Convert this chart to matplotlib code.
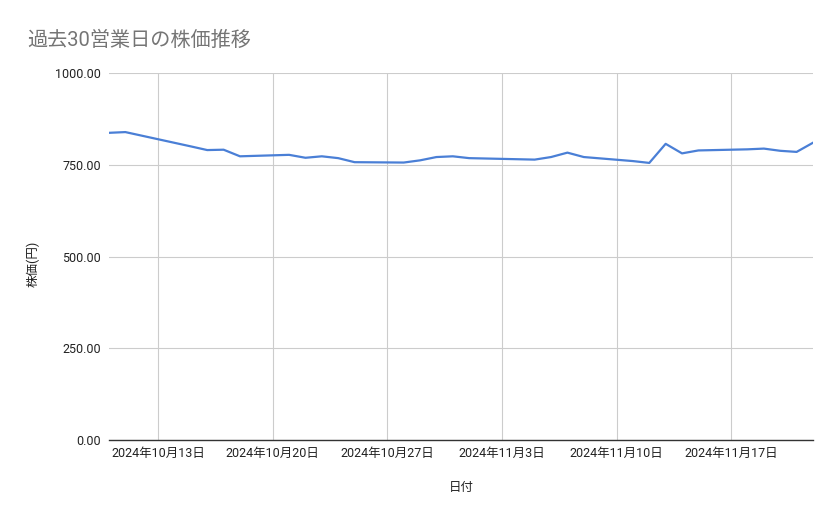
import matplotlib
matplotlib.use("Agg")
import matplotlib.pyplot as plt
import matplotlib.ticker as mticker
import pandas as pd

plt.rcParams['font.family'] = ['Roboto', 'Noto Sans CJK JP', 'DejaVu Sans']

# 30 trading days
dates = pd.to_datetime([
    "2024-10-10", "2024-10-11", "2024-10-15", "2024-10-16", "2024-10-17",
    "2024-10-18", "2024-10-21", "2024-10-22", "2024-10-23", "2024-10-24",
    "2024-10-25", "2024-10-28", "2024-10-29", "2024-10-30", "2024-10-31",
    "2024-11-01", "2024-11-05", "2024-11-06", "2024-11-07", "2024-11-08",
    "2024-11-11", "2024-11-12", "2024-11-13", "2024-11-14", "2024-11-15",
    "2024-11-18", "2024-11-19", "2024-11-20", "2024-11-21", "2024-11-22",
])
prices = [
    837, 839, 800, 790, 791,
    773, 777, 769, 773, 768,
    757, 756, 762, 771, 773,
    768, 764, 771, 783, 771,
    760, 755, 807, 781, 789,
    792, 794, 788, 785, 810,
]
tick_dates = pd.to_datetime(["2024-10-13", "2024-10-20", "2024-10-27",
                             "2024-11-03", "2024-11-10", "2024-11-17"])
y_ticks = [0, 250, 500, 750, 1000]

fig = plt.figure(figsize=(8.39, 5.19), dpi=100)
ax = fig.add_axes([109/839, 1 - 440/519, (813 - 109)/839, (440 - 73)/519])

ax.plot(dates, prices, color='#4a7fd6', lw=1.6, solid_joinstyle='round')

ax.set_xlim(pd.Timestamp("2024-10-10"), pd.Timestamp("2024-11-22"))
ax.set_ylim(0, 1000)
ax.set_yticks(y_ticks)
ax.yaxis.set_major_formatter(mticker.FormatStrFormatter('%.2f'))
ax.set_xticks(tick_dates)
ax.set_xticklabels([f"{d.year}年{d.month}月{d.day}日" for d in tick_dates])

ax.grid(True, color='#cccccc', lw=0.8)
ax.set_axisbelow(True)
for side in ['top', 'right', 'left']:
    ax.spines[side].set_visible(False)
ax.spines['bottom'].set_color('#333333')
ax.spines['bottom'].set_linewidth(1.0)
ax.spines['bottom'].set_zorder(3)
ax.tick_params(axis='both', length=0, labelsize=9, colors='#222222')
ax.tick_params(axis='y', pad=6)
ax.tick_params(axis='x', pad=5)

ax.set_xlabel('日付', fontsize=9, color='#222222', labelpad=15)
ax.set_ylabel('株価(円)', fontsize=9, color='#222222')
ax.yaxis.set_label_coords(-0.098, 0.48)

fig.text(27/839, 1 - 40/519, '過去30営業日の株価推移', fontsize=14.5,
         color='#757575', ha='left', va='center')

fig.savefig('out.png', dpi=100)
